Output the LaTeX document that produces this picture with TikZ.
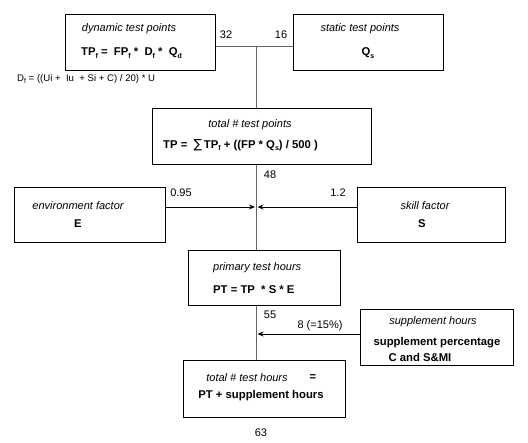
\documentclass[tikz,border=0pt]{standalone}
\usepackage{fontspec}
\setmainfont{Liberation Sans}
\newfontfamily\symfont{DejaVu Sans}
\usetikzlibrary{arrows.meta}
\newcommand\lo[1]{\raisebox{-0.4ex}{\fontsize{7}{7}\selectfont #1}}
\tikzset{
  box/.style={draw=black, line width=0.9pt, inner sep=0pt, anchor=north west},
  ttl/.style={inner sep=0pt, font=\fontsize{11}{13}\selectfont\itshape},
  frm/.style={inner sep=0pt, font=\fontsize{11.3}{13}\selectfont\bfseries},
  lbl/.style={inner sep=0pt, font=\fontsize{11}{13}\selectfont},
  vline/.style={draw=black!60, line width=0.9pt},
  arr/.style={draw=black, line width=0.9pt, -{Stealth[length=6pt,width=5pt]}}
}
\begin{document}
\begin{tikzpicture}[x=1pt,y=-1pt]
\useasboundingbox (0,0) rectangle (528,443);
\fill[white] (0,0) rectangle (528,443);
% boxes
\node[box, minimum width=150pt, minimum height=56pt] (dyn) at (65,14) {};
\node[box, minimum width=150pt, minimum height=56pt] (sta) at (293,14) {};
\node[box, minimum width=219pt, minimum height=56pt] (tot) at (152,108) {};
\node[box, minimum width=151pt, minimum height=55pt] (env) at (14,187) {};
\node[box, minimum width=148pt, minimum height=55pt] (skl) at (357,187) {};
\node[box, minimum width=152pt, minimum height=55pt] (pri) at (188,250) {};
\node[box, minimum width=153pt, minimum height=56pt] (sup) at (360,309) {};
\node[box, minimum width=162pt, minimum height=57pt] (fin) at (183,360) {};
% texts
\node[ttl] (t1) at (129,29) {dynamic test points};
\node[frm, anchor=west] (f1) at (81,53) {TP\lo{f} =\ \ FP\lo{f} *\ \ D\lo{f} *\ \ Q\lo{d}};
\node[ttl] (t2) at (360,29) {static test points};
\node[frm] (f2) at (368,53) {Q\lo{s}};
\node[lbl, anchor=west, font=\fontsize{9.6}{11}\selectfont] (df) at (17,79) {D\lo{f} = ((Ui +\ \ Iu\ \ + Si + C) / 20) * U};
\node[ttl] (t3) at (250,125) {total \# test points};
\node[frm, anchor=west] (f3) at (163,145) {TP =\ \ {\mdseries\symfont\fontsize{12.5}{13}\selectfont ∑}\,TP\lo{f} + ((FP * Q\lo{s}) / 500 )};
\node[ttl] (t4) at (78,206) {environment factor};
\node[frm] (f4) at (78,224) {E};
\node[ttl] (t5) at (425,206) {skill factor};
\node[frm] (f5) at (422,224) {S};
\node[ttl, anchor=west] (t6) at (213,268) {primary test hours};
\node[frm, anchor=west] (f6) at (213,290) {PT = TP\ \ * S * E};
\node[ttl] (t7) at (433,322) {supplement hours};
\node[frm] (f7a) at (437,343) {supplement percentage};
\node[frm] (f7b) at (420,357) {C and S\&MI};
\node[ttl] (t8) at (247,378) {total \# test hours};
\node[frm] (eq) at (313,378) {=};
\node[frm] (f8) at (261,396) {PT + supplement hours};
% labels
\node[lbl] (l32) at (226,35) {32};
\node[lbl] (l16) at (281,35) {16};
\node[lbl] (l48) at (270,175) {48};
\node[lbl] (l095) at (181,193) {0.95};
\node[lbl] (l12) at (338,193) {1.2};
\node[lbl] (l55) at (270,315) {55};
\node[lbl] (l8) at (320,326) {8 (=15\%)};
\node[lbl] (l63) at (261,433) {63};
% connectors
\coordinate (j1) at (256,46);
\coordinate (j2) at (256,207);
\coordinate (j3) at (256,334);
\draw[vline] (dyn.east |- j1) -- (sta.west |- j1);
\draw[vline] (j1) -- (j1 |- tot.north);
\draw[vline] (j1 |- tot.south) -- (j1 |- pri.north);
\draw[vline] (j1 |- pri.south) -- (j1 |- fin.north);
\draw[arr] (env.east |- j2) -- ([xshift=-1pt]j2);
\draw[arr] (skl.west |- j2) -- ([xshift=1.5pt]j2);
\draw[arr] (sup.west |- j3) -- ([xshift=1.5pt]j3);
\end{tikzpicture}
\end{document}
